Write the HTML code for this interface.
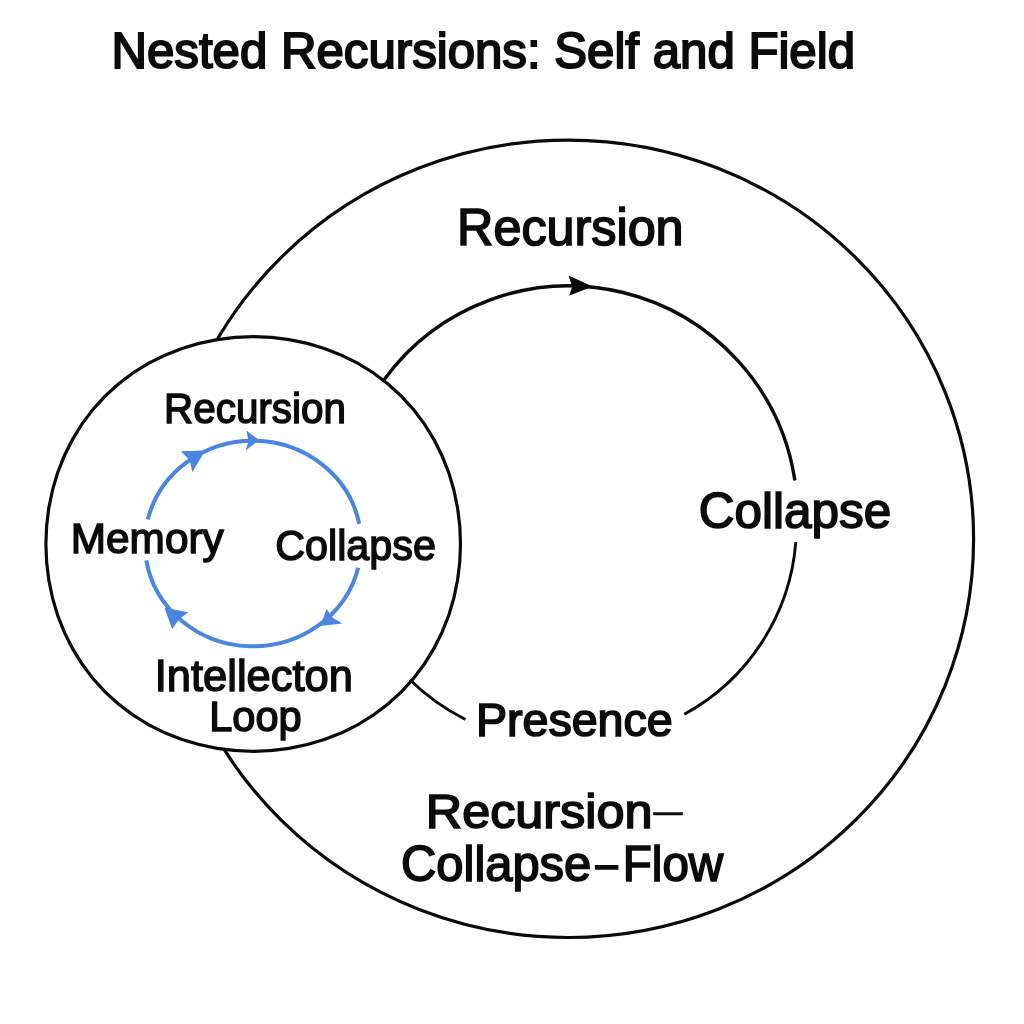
<!DOCTYPE html>
<html lang="en"><head><meta charset="utf-8"><title>Nested Recursions: Self and Field</title>
<style>
html,body{margin:0;padding:0;background:#fff;}
body{width:1024px;height:1024px;overflow:hidden;}
svg{display:block;}
text{font-family:"Liberation Sans",Arial,Helvetica,sans-serif;fill:#0b0b0b;stroke:#0b0b0b;stroke-linejoin:miter;}
</style></head><body>
<svg width="1024" height="1024" viewBox="0 0 1024 1024">
<rect width="1024" height="1024" fill="#ffffff"/>
<ellipse cx="568.3" cy="538.8" rx="405.3" ry="398.7" fill="none" stroke="#0a0a0a" stroke-width="3.2"/>
<path d="M460.5 544.0C460.5 556.0 459.5 568.2 457.6 580.0C455.6 591.9 452.7 603.8 448.8 615.2C444.8 626.6 439.9 637.8 434.0 648.4C428.1 659.0 421.2 669.2 413.5 678.5C405.8 687.8 397.0 696.6 387.7 704.3C378.4 712.0 368.2 718.9 357.6 724.8C347.0 730.7 335.8 735.6 324.4 739.6C313.0 743.5 301.1 746.4 289.2 748.4C277.4 750.3 265.2 751.3 253.2 751.3C241.2 751.3 229.0 750.3 217.2 748.4C205.3 746.4 193.4 743.5 182.0 739.6C170.6 735.6 159.4 730.7 148.8 724.8C138.2 718.9 128.0 712.0 118.7 704.3C109.4 696.6 100.6 687.8 92.9 678.5C85.2 669.2 78.3 659.0 72.4 648.4C66.5 637.8 61.6 626.6 57.6 615.2C53.7 603.8 50.8 591.9 48.8 580.0C46.9 568.2 45.9 556.0 45.9 544.0C45.9 532.0 46.9 519.8 48.8 508.0C50.8 496.1 53.7 484.2 57.6 472.8C61.6 461.4 66.5 450.2 72.4 439.6C78.3 429.0 85.2 418.8 92.9 409.5C100.6 400.2 109.4 391.4 118.7 383.7C128.0 376.0 138.2 369.1 148.8 363.2C159.4 357.3 170.6 352.4 182.0 348.4C193.4 344.5 205.3 341.6 217.2 339.6C229.0 337.7 241.2 336.7 253.2 336.7C265.2 336.7 277.4 337.7 289.2 339.6C301.1 341.6 313.0 344.5 324.4 348.4C335.8 352.4 347.0 357.3 357.6 363.2C368.2 369.1 378.4 376.0 387.7 383.7C397.0 391.4 405.8 400.2 413.5 409.5C421.2 418.8 428.1 429.0 434.0 439.6C439.9 450.2 444.8 461.4 448.8 472.8C452.7 484.2 455.6 496.1 457.6 508.0C459.5 519.8 460.5 532.0 460.5 544.0Z" fill="#ffffff" stroke="#0a0a0a" stroke-width="3.2"/>
<path d="M383.9 379.9A228.75 228.75 0 0 1 794.9 480.5" fill="none" stroke="#0a0a0a" stroke-width="3.4"/>
<path d="M795.8 542.2A215.3 215.3 0 0 1 684.3 714.3 M465.5 719.5A229 229 0 0 1 409.8 679.7" fill="none" stroke="#0a0a0a" stroke-width="2.9"/>
<polygon points="592.6,286.5 568.6,275.6 572.2,286.8 569.1,295.8" fill="#0a0a0a"/>
<path d="M147.8 519.6A108.2 102.8 0 0 1 359.2 523.8 M358.2 567.7A108.2 102.8 0 0 1 146.3 560.4" fill="none" stroke="#4a86e1" stroke-width="4"/>
<g fill="#4a86e1">
<polygon points="205.3,450.4 180.9,451.2 189.6,460.2 192.4,471.9"/>
<polygon points="259,440.1 246.3,430.5 248.6,441.1 245.6,450.6"/>
<polygon points="164.4,607.8 188.3,612.2 179.3,619.3 172.2,629"/>
<polygon points="320.2,626 326.6,608.9 333,618 342.4,623.6"/>
</g>
<g style="will-change:transform">
<text><tspan x="111.5" y="68.2" font-size="50.5" textLength="743.5" lengthAdjust="spacingAndGlyphs" stroke-width="2.0">Nested Recursions: Self and Field</tspan></text>
<text><tspan x="457.1" y="245.2" font-size="50.9" textLength="226.5" lengthAdjust="spacingAndGlyphs" stroke-width="1.7">Recursion</tspan></text>
<text><tspan x="698.8" y="527.8" font-size="49.7" textLength="192.4" lengthAdjust="spacingAndGlyphs" stroke-width="1.7">Collapse</tspan></text>
<text><tspan x="475.9" y="735.8" font-size="46.6" textLength="196.8" lengthAdjust="spacingAndGlyphs" stroke-width="1.7">Presence</tspan></text>
<text><tspan x="425.8" y="828.3" font-size="48.2" textLength="226.6" lengthAdjust="spacingAndGlyphs" stroke-width="1.7">Recursion</tspan><tspan x="653.8" y="823.3" font-size="36" textLength="28.6" lengthAdjust="spacingAndGlyphs" stroke-width="0.6">–</tspan></text>
<text><tspan x="401.1" y="880.8" font-size="49.1" textLength="190.1" lengthAdjust="spacingAndGlyphs" stroke-width="1.7">Collapse</tspan><tspan x="595.5" y="880.4" font-size="50" textLength="22.3" lengthAdjust="spacingAndGlyphs" stroke-width="1.5">–</tspan><tspan x="622.8" y="880.8" font-size="49.1" textLength="100.4" lengthAdjust="spacingAndGlyphs" stroke-width="1.7">Flow</tspan></text>
<text><tspan x="164.1" y="422.7" font-size="42.7" textLength="181.8" lengthAdjust="spacingAndGlyphs" stroke-width="1.5">Recursion</tspan></text>
<text><tspan x="70.8" y="552.5" font-size="43.2" textLength="152.9" lengthAdjust="spacingAndGlyphs" stroke-width="1.5">Memory</tspan></text>
<text><tspan x="275.2" y="559.5" font-size="42.8" textLength="160.7" lengthAdjust="spacingAndGlyphs" stroke-width="1.5">Collapse</tspan></text>
<text><tspan x="154.8" y="690.8" font-size="44.1" textLength="198.1" lengthAdjust="spacingAndGlyphs" stroke-width="1.5">Intellecton</tspan></text>
<text><tspan x="209.2" y="731.0" font-size="42.3" textLength="92.5" lengthAdjust="spacingAndGlyphs" stroke-width="1.5">Loop</tspan></text>
</g>
</svg>
</body></html>
